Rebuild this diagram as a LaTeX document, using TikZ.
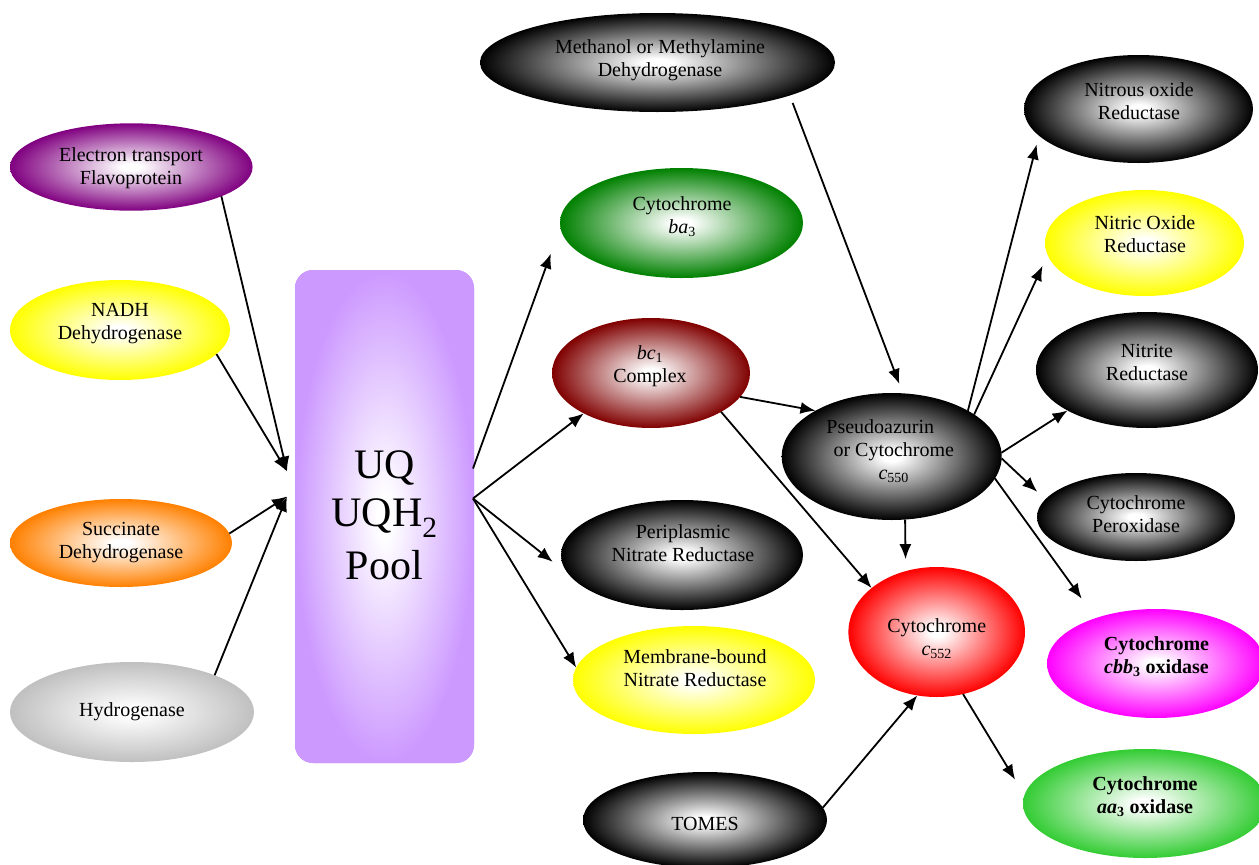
\documentclass[tikz,border=0pt]{standalone}
\usepackage{fontspec}
\setmainfont{Liberation Serif}
\usetikzlibrary{shapes.geometric,arrows.meta}
\definecolor{cPurple}{HTML}{800080}
\definecolor{cYellow}{HTML}{FFFF00}
\definecolor{cOrange}{HTML}{FF8000}
\definecolor{cGray}{HTML}{C0C0C0}
\definecolor{cPool}{HTML}{CC99FF}
\definecolor{cDkGreen}{HTML}{008000}
\definecolor{cDkRed}{HTML}{800000}
\definecolor{cBlack}{HTML}{000000}
\definecolor{cRed}{HTML}{FF0000}
\definecolor{cMagenta}{HTML}{FF00FF}
\definecolor{cGreen}{HTML}{33CC33}
\colorlet{ocol}{black}
\pgfdeclareradialshading[ocol]{ellshade}{\pgfpointorigin}{color(0bp)=(white); color(2bp)=(white); color(25bp)=(ocol); color(50bp)=(ocol)}
\tikzset{
  shadecol/.style={shading=ellshade, /utils/exec={\colorlet{ocol}{#1}}, shade},
  ell/.style={ellipse, inner sep=0pt, outer sep=0pt, shadecol=#1},
  txt/.style={align=center, inner sep=0pt, font=\fontsize{20}{23}\selectfont},
  arr/.style={-{Latex[length=15pt,width=12pt]}, line width=1.8pt},
}
\begin{document}
\begin{tikzpicture}[x=1pt,y=-1pt]
\useasboundingbox (0,0) rectangle (1259,865);

% left column
\node[ell=cPurple, minimum width=242.6pt, minimum height=87.4pt] (flavo) at (131.3,167) {};
\node[txt] (flavo-t) at (131,168) {Electron transport\\Flavoprotein};
\node[ell=cYellow, minimum width=220pt, minimum height=100pt] (nadh) at (120,330) {};
\node[txt] (nadh-t) at (120,324) {NADH\\Dehydrogenase};
\node[ell=cOrange, minimum width=222pt, minimum height=88pt] (succ) at (121,543) {};
\node[txt] (succ-t) at (121,542.5) {Succinate\\Dehydrogenase};
\node[ell=cGray, minimum width=244pt, minimum height=100pt] (hydro) at (132,712) {};
\node[txt] (hydro-t) at (132,712) {Hydrogenase};

% pool
\node[rectangle, rounded corners=18pt, minimum width=179pt, minimum height=493pt, inner sep=0pt, outer sep=0pt, preaction={fill=cPool}, shadecol=cPool] (pool) at (384.5,516.5) {};
\node[align=center, inner sep=0pt, font=\fontsize{42}{48}\selectfont] (pool-t) at (384.5,515.6) {UQ\\UQH\textsubscript{2}\\[5pt]Pool};

% middle column
\node[ell=cBlack, minimum width=355pt, minimum height=99pt] (meth) at (657.5,62.5) {};
\node[txt] (meth-t) at (660,60) {Methanol or Methylamine\\Dehydrogenase};
\node[ell=cDkGreen, minimum width=243pt, minimum height=110pt] (ba3) at (681.5,223) {};
\node[txt] (ba3-t) at (682,216.3) {Cytochrome\\\textit{ba}\textsubscript{3}};
\node[ell=cDkRed, minimum width=198pt, minimum height=110pt] (bc1) at (651,373) {};
\node[txt] (bc1-t) at (650,366.5) {\textit{bc}\textsubscript{1}\\Complex};
\node[ell=cBlack, minimum width=242pt, minimum height=110pt] (peri) at (682,555) {};
\node[txt] (peri-t) at (683,542.8) {Periplasmic\\Nitrate Reductase};
\node[ell=cYellow, minimum width=242pt, minimum height=108pt] (memb) at (694,680) {};
\node[txt] (memb-t) at (695,667.8) {Membrane-bound\\Nitrate Reductase};
\node[ell=cBlack, minimum width=244pt, minimum height=96pt] (tomes) at (705,820) {};
\node[txt] (tomes-t) at (705,824) {TOMES};

% centre right
\node[ell=cBlack, minimum width=220pt, minimum height=127pt] (pseudo) at (891.7,456.5) {};
\node[txt] (pseudo-t) at (893.8,451) {Pseudoazurin\rule{27pt}{0pt}\\or Cytochrome\\\textit{c}\textsubscript{550}};
\node[ell=cRed, minimum width=176.6pt, minimum height=130pt] (c552) at (936.7,632) {};
\node[txt] (c552-t) at (936.7,638.3) {Cytochrome\\\textit{c}\textsubscript{552}};

% right column
\node[ell=cBlack, minimum width=229pt, minimum height=108pt] (nitrous) at (1138.5,109) {};
\node[txt] (nitrous-t) at (1139,101.3) {Nitrous oxide\\Reductase};
\node[ell=cYellow, minimum width=199pt, minimum height=106pt] (nitric) at (1144.5,243) {};
\node[txt] (nitric-t) at (1145,233.8) {Nitric Oxide\\Reductase};
\node[ell=cBlack, minimum width=222pt, minimum height=116pt] (nitrite) at (1147,370) {};
\node[txt] (nitrite-t) at (1147,362.8) {Nitrite\\Reductase};
\node[ell=cBlack, minimum width=198pt, minimum height=88pt] (perox) at (1136,517) {};
\node[txt] (perox-t) at (1136,513.8) {Cytochrome\\Peroxidase};
\node[ell=cMagenta, minimum width=218pt, minimum height=109pt] (cbb3) at (1156,663.5) {};
\node[txt] (cbb3-t) at (1156.5,656.7) {\textbf{Cytochrome}\\\textbf{\textit{cbb}\textsubscript{3} oxidase}};
\node[ell=cGreen, minimum width=244pt, minimum height=109pt] (aa3) at (1145,803.5) {};
\node[txt] (aa3-t) at (1145,796.7) {\textbf{Cytochrome}\\\textbf{\textit{aa}\textsubscript{3} oxidase}};

% connectors into pool
\draw[arr] (flavo.-18) -- ([xshift=-8pt,yshift=45pt]pool.west);
\draw[arr] (nadh.-14) -- ([xshift=-8pt,yshift=45pt]pool.west);
\draw[arr] (succ.5) -- ([xshift=-8pt,yshift=20pt]pool.west);
\draw[arr] (hydro.24) -- ([xshift=-8pt,yshift=20pt]pool.west);

% connectors out of pool
\draw[arr, shorten >=28pt] ([xshift=-1pt,yshift=48pt]pool.east) -- (ba3.182);
\draw[arr] ([xshift=-1pt,yshift=18pt]pool.east) -- (bc1.211);
\draw[arr, shorten >=21pt] ([xshift=-1pt,yshift=18pt]pool.east) -- (peri.190);
\draw[arr] ([xshift=-1pt,yshift=18pt]pool.east) -- (memb.174);

% middle connectors
\draw[arr, shorten <=8pt, shorten >=10pt] (meth.-14) -- (pseudo.80);
\draw[arr] (bc1.-15) -- (pseudo.149);
\draw[arr] (bc1.-29) -- (c552.146);
\draw[arr, shorten >=12pt] (pseudo.-78) -- (c552.117);
\draw[arr] (tomes.6) -- (c552.-107);
\draw[arr, shorten >=18pt] (c552.-67) -- (aa3.176);

% from pseudoazurin
\draw[arr, shorten >=9pt] (pseudo.31) -- (nitrous.195);
\draw[arr, shorten >=12pt] (pseudo.27) -- (nitric.187);
\draw[arr] (pseudo.2) -- (nitrite.207);
\draw[arr, shorten >=11pt] (pseudo.-1) -- (perox.169);
\draw[arr, shorten >=24pt] (pseudo.-12) -- (cbb3.143);
\end{tikzpicture}
\end{document}
